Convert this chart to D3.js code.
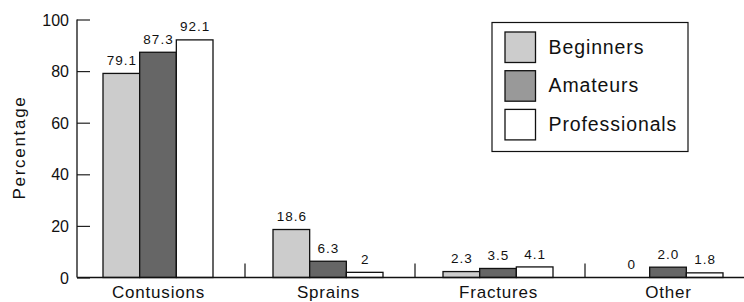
<!DOCTYPE html>
<html>
<head>
<meta charset="utf-8">
<script src="https://cdn.jsdelivr.net/npm/d3@7"></script>
<style>
  body { margin: 0; background: #fff; }
  text { font-family: "Liberation Sans", Arial, sans-serif; fill: #111; }
</style>
</head>
<body>
<div id="chart"></div>
<script>
// chart data
let categories = ["Contusions", "Sprains", "Fractures", "Other"];
let seriesNames = ["Beginners", "Amateurs", "Professionals"];
let beginners = [79.1, 18.6, 2.3, 0];
let amateurs = [87.3, 6.3, 3.5, 4.0];
let professionals = [92.1, 2, 4.1, 1.8];
let beginnersLabels = ["79.1", "18.6", "2.3", "0"];
let amateursLabels = ["87.3", "6.3", "3.5", "2.0"];
let professionalsLabels = ["92.1", "2", "4.1", "1.8"];
let yTicks = [0, 20, 40, 60, 80, 100];

let barColors = ["#cccccc", "#666666", "#ffffff"];
let legendColors = ["#cccccc", "#999999", "#ffffff"];

let w = 744;
let h = 302;

let svg = d3.select("#chart")
    .append("svg")
    .attr("width", w)
    .attr("height", h);

let y = d3.scaleLinear().domain([0, 100]).range([277.5, 19.5]);

let x = d3.scaleBand()
    .domain(categories)
    .range([73, 753])
    .paddingInner(0)
    .paddingOuter(0);

let xInner = d3.scaleBand()
    .domain(seriesNames)
    .range([30, 140]);

let series = [
    {name: "Beginners", values: beginners, labels: beginnersLabels},
    {name: "Amateurs", values: amateurs, labels: amateursLabels},
    {name: "Professionals", values: professionals, labels: professionalsLabels}
];

// bars
series.forEach(function (s, si) {
    let g = svg.append("g");
    g.selectAll("rect")
        .data(s.values)
        .enter()
        .append("rect")
        .filter(function (d) { return d > 0; })
        .attr("x", function (d, i) {
            return x(categories[i]) + xInner(s.name);
        })
        .attr("y", function (d) { return y(d); })
        .attr("width", xInner.bandwidth())
        .attr("height", function (d) { return y(0) - y(d); })
        .attr("fill", barColors[si])
        .attr("stroke", "#111")
        .attr("stroke-width", 1.3);

    g.selectAll("text")
        .data(s.labels)
        .enter()
        .append("text")
        .text(function (d) { return d; })
        .attr("text-anchor", "middle")
        .attr("x", function (d, i) {
            return x(categories[i]) + xInner(s.name) + xInner.bandwidth() / 2 + 0.5;
        })
        .attr("y", function (d, i) {
            return y(s.values[i]) - 8.4;
        })
        .attr("font-size", "13.5px")
        .attr("letter-spacing", "1px");
});

// y axis, ticks pointing inward
let yAxis = d3.axisRight(y)
    .tickValues(yTicks)
    .tickSize(13)
    .tickFormat("");
let yg = svg.append("g")
    .attr("transform", "translate(77,0)")
    .call(yAxis);
yg.select(".domain").remove();
yg.selectAll(".tick line").attr("stroke", "#222").attr("stroke-width", 1.2);
yg.append("line")
    .attr("x1", 0).attr("x2", 0)
    .attr("y1", y(100)).attr("y2", y(0))
    .attr("stroke", "#111").attr("stroke-width", 1.3);

svg.selectAll(".ylab")
    .data(yTicks)
    .enter()
    .append("text")
    .attr("class", "ylab")
    .text(function (d) { return d; })
    .attr("text-anchor", "end")
    .attr("x", 69)
    .attr("y", function (d) { return y(d) + 6; })
    .attr("font-size", "16px");

svg.append("text")
    .text("Percentage")
    .attr("text-anchor", "middle")
    .attr("transform", "translate(25,147.5) rotate(-90)")
    .attr("font-size", "17px")
    .attr("letter-spacing", "1.7px");

// x axis baseline and separators
svg.append("line")
    .attr("x1", 77).attr("x2", w)
    .attr("y1", y(0)).attr("y2", y(0))
    .attr("stroke", "#111").attr("stroke-width", 1.3);

svg.selectAll(".sep")
    .data(categories.slice(1))
    .enter()
    .append("line")
    .attr("class", "sep")
    .attr("x1", function (d) { return x(d) + 2; })
    .attr("x2", function (d) { return x(d) + 2; })
    .attr("y1", y(0) - 14)
    .attr("y2", y(0))
    .attr("stroke", "#111")
    .attr("stroke-width", 1.2);

svg.selectAll(".xlab")
    .data(categories)
    .enter()
    .append("text")
    .attr("class", "xlab")
    .text(function (d) { return d; })
    .attr("text-anchor", "middle")
    .attr("x", function (d) { return x(d) + 85.5; })
    .attr("y", 297.5)
    .attr("font-size", "17px")
    .attr("letter-spacing", "0.8px");

// legend
let legend = svg.append("g").attr("transform", "translate(492,22.5)");
legend.append("rect")
    .attr("width", 196)
    .attr("height", 129)
    .attr("fill", "#fff")
    .attr("stroke", "#111")
    .attr("stroke-width", 1.2);

let items = legend.selectAll(".item")
    .data(seriesNames)
    .enter()
    .append("g")
    .attr("transform", function (d, i) {
        return "translate(13," + (9.5 + i * 38.7) + ")";
    });
items.append("rect")
    .attr("width", 30.5)
    .attr("height", 30.5)
    .attr("fill", function (d, i) { return legendColors[i]; })
    .attr("stroke", "#111")
    .attr("stroke-width", 1.3);
items.append("text")
    .text(function (d) { return d; })
    .attr("x", 43.5)
    .attr("y", 21.5)
    .attr("font-size", "19.5px")
    .attr("letter-spacing", "0.9px");
</script>
</body>
</html>
